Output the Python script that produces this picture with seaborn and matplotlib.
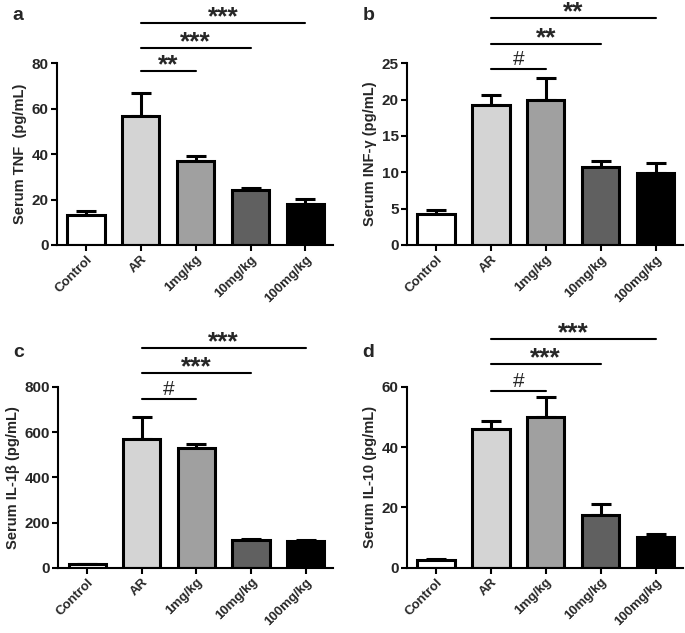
import numpy as np
import pandas as pd
import matplotlib
matplotlib.use('Agg')
import matplotlib.pyplot as plt
import seaborn as sns

# data
groups = ['Control', 'AR', '1mg/kg', '10mg/kg', '100mg/kg']
bar_colors = ['#ffffff', '#d4d4d4', '#a0a0a0', '#606060', '#000000']

tnf = [13, 57, 37, 24, 18]
tnf_err = [2, 10, 2, 1, 2.2]
inf_g = [4.3, 19.3, 20.0, 10.7, 9.9]
inf_g_err = [0.5, 1.3, 3.0, 0.8, 1.4]
il1b = [15, 570, 530, 125, 120]
il1b_err = [3, 98, 18, 3, 2]
il10 = [2.6, 46, 50, 17.5, 10.2]
il10_err = [0.4, 2.5, 6.5, 3.8, 1.1]

# significance brackets: (target group index, y level, label)
tnf_sig = [(2, 76.5, '**'), (3, 86.6, '***'), (4, 97.6, '***')]
inf_g_sig = [(2, 24.2, '#'), (3, 27.7, '**'), (4, 31.3, '**')]
il1b_sig = [(2, 747, '#'), (3, 862, '***'), (4, 972, '***')]
il10_sig = [(2, 58.7, '#'), (3, 67.6, '***'), (4, 75.9, '***')]

sns.set_style('ticks')
plt.rcParams['font.family'] = ['Liberation Sans', 'DejaVu Sans']
plt.rcParams['font.weight'] = 'bold'

fig = plt.figure(figsize=(6.85, 6.33), dpi=100)

panels = [
    ('a', [0.083, 0.613, 0.403, 0.287], tnf, tnf_err, tnf_sig, [0, 20, 40, 60, 80], 'Serum TNF  (pg/mL)'),
    ('b', [0.594, 0.613, 0.403, 0.287], inf_g, inf_g_err, inf_g_sig, [0, 5, 10, 15, 20, 25], 'Serum INF-γ (pg/mL)'),
    ('c', [0.085, 0.103, 0.401, 0.286], il1b, il1b_err, il1b_sig, [0, 200, 400, 600, 800], 'Serum IL-1β (pg/mL)'),
    ('d', [0.594, 0.103, 0.403, 0.286], il10, il10_err, il10_sig, [0, 20, 40, 60], 'Serum IL-10 (pg/mL)'),
]

for letter, pos, vals, errs, sigs, yt, ylab in panels:
    ax = fig.add_axes(pos)
    df = pd.DataFrame({'group': groups, 'value': vals})
    sns.barplot(data=df, x='group', y='value', hue='group', palette=bar_colors,
                width=0.68, edgecolor='black', linewidth=2.2, legend=False, ax=ax,
                zorder=2)
    ax.errorbar(range(len(groups)), vals, yerr=[np.zeros(len(errs)), errs],
                fmt='none', ecolor='black', elinewidth=2.2, capsize=7, capthick=2.2,
                zorder=1)
    ax.set_xlim(-0.53, 4.5)
    ax.set_ylim(0, yt[-1])
    ax.set_yticks(yt)
    ax.set_xlabel('')
    ax.set_ylabel(ylab, fontsize=10.5, fontweight='bold', labelpad=3)
    ax.set_xticks(range(len(groups)))
    ax.set_xticklabels(groups, rotation=45, ha='right', rotation_mode='anchor',
                       fontsize=9.5, fontweight='bold')
    for t in ax.get_yticklabels():
        t.set_fontsize(11)
        t.set_fontweight('bold')
    ax.tick_params(axis='both', width=1.5, length=4, color='black', pad=2)
    for s in ['left', 'bottom']:
        ax.spines[s].set_linewidth(1.5)
        ax.spines[s].set_color('black')
    sns.despine(ax=ax)

    for target, level, label in sigs:
        ax.plot([1, target], [level, level], color='black', lw=1.5,
                clip_on=False)
        if label == '#':
            ax.text((1 + target) / 2, level, label, ha='center', va='bottom',
                    fontsize=15, fontweight='normal')
        else:
            ax.text((1 + target) / 2, level - yt[-1] * 0.035, label,
                    ha='center', va='bottom', fontsize=19, fontweight='bold')

    fig.text(pos[0] - 0.065, 0.975 if letter in 'ab' else 0.443, letter,
             fontsize=14, fontweight='bold', va='center')

fig.savefig('out.png', dpi=100)
